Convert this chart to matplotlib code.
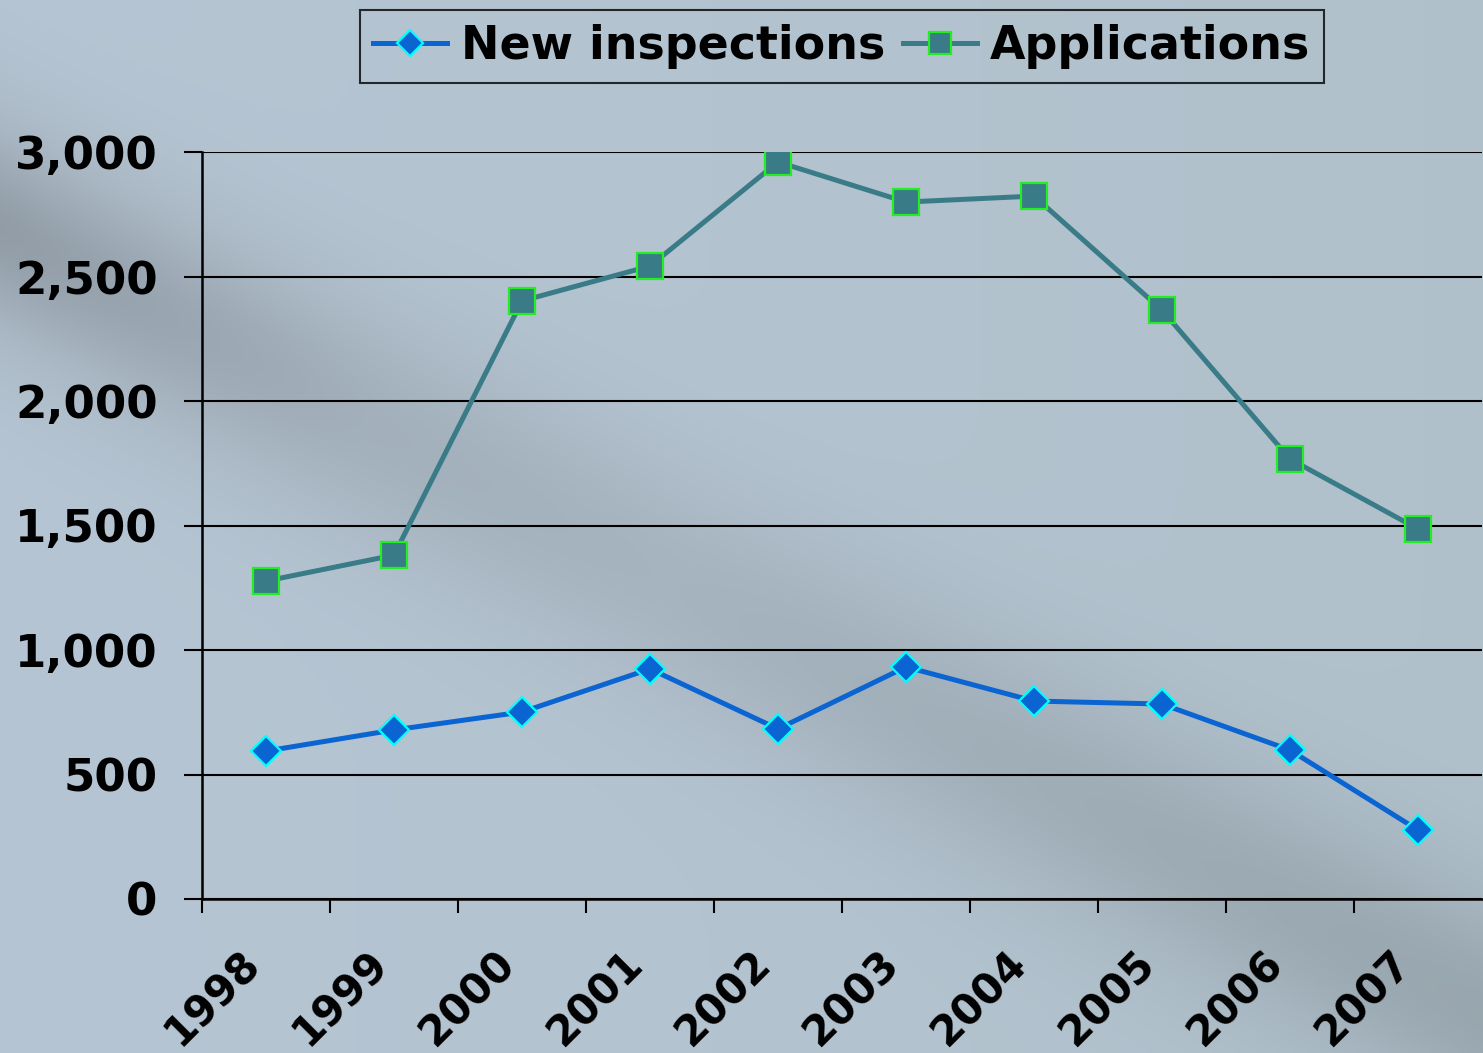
import numpy as np
import matplotlib.pyplot as plt
import matplotlib.transforms as mtransforms
from matplotlib.ticker import FuncFormatter, FixedLocator

years = ["1998", "1999", "2000", "2001", "2002", "2003", "2004", "2005", "2006", "2007"]
new_inspections = [594, 679, 751, 924, 683, 932, 795, 783, 598, 277]
applications = [1277, 1381, 2402, 2542, 2960, 2799, 2823, 2365, 1767, 1486]
y_ticks = [0, 500, 1000, 1500, 2000, 2500, 3000]

W, H = 1483, 1053
fig = plt.figure(figsize=(W / 100, H / 100), dpi=100)

# background: blue-grey with a dark diagonal shadow
bg = fig.add_axes([0, 0, 1, 1])
yy, xx = np.mgrid[0:H, 0:W]
base = np.array([182, 197, 211]) / 255.0
img = np.ones((H, W, 3)) * base
t = xx / W
img = img * (1 - 0.06 * t[..., None]) + np.array([0.02, 0.03, 0.02]) * t[..., None]
x0, y0, x1, y1 = 0, 230, 1483, 1010
dx, dy = x1 - x0, y1 - y0
L = np.hypot(dx, dy)
d = ((xx - x0) * dy - (yy - y0) * dx) / L
along = ((xx - x0) * dx + (yy - y0) * dy) / L / L
strength = 0.22 * np.exp(-(d / 110.0) ** 2) * (0.55 + 0.45 * np.clip(np.abs(along - 0.45) / 0.55, 0, 1))
strength += 0.12 * np.exp(-(d / 60.0) ** 2) * np.clip(1 - along / 0.25, 0, 1)
img = img * (1 - strength[..., None]) + np.array([0.45, 0.47, 0.48]) * strength[..., None] * 0.6
img = np.clip(img, 0, 1)
bg.imshow(img, aspect='auto', extent=[0, W, H, 0])
bg.set_xlim(0, W)
bg.set_ylim(H, 0)
bg.axis('off')

ax = fig.add_axes([202 / W, 1 - 899 / H, 1280 / W, (899 - 152) / H])
ax.patch.set_alpha(0)
x = np.arange(len(years))

ax.set_ylim(0, 3000)
ax.set_xlim(-0.5, len(years) - 0.5)
ax.yaxis.set_major_locator(FixedLocator(y_ticks))
ax.yaxis.set_major_formatter(FuncFormatter(lambda v, p: f"{int(v):,}"))
ax.grid(axis='y', color='black', linewidth=1.5)
ax.set_axisbelow(True)

l1, = ax.plot(x, new_inspections, color='#0a64d2', lw=3.6, marker='D', markersize=15,
              markerfacecolor='#0a64d2', markeredgecolor='#00ffff', markeredgewidth=1.6,
              label='New inspections', zorder=3)
l2, = ax.plot(x, applications, color='#3a7b88', lw=3.6, marker='s', markersize=19,
              markerfacecolor='#3a7b88', markeredgecolor='#22ee22', markeredgewidth=1.6,
              label='Applications', zorder=3)

for s in ['top', 'right']:
    ax.spines[s].set_visible(False)
for s in ['left', 'bottom']:
    ax.spines[s].set_color('black')
    ax.spines[s].set_linewidth(1.8)

ax.set_xticks(x)
ax.set_xticklabels(years, rotation=45, ha='right', va='top', rotation_mode='anchor')
ax.set_xticks(np.arange(len(years)) - 0.5, minor=True)
ax.tick_params(axis='x', which='major', length=0, pad=31, labelsize=30)
ax.tick_params(axis='x', which='minor', length=10, width=1.5, direction='out', color='black')
ax.tick_params(axis='y', length=13, width=1.5, direction='out', labelsize=32.5, pad=19)
offset = mtransforms.ScaledTranslation(-0.28, 0, fig.dpi_scale_trans)
for lab in ax.get_xticklabels():
    lab.set_transform(lab.get_transform() + offset)
for lab in ax.get_xticklabels() + ax.get_yticklabels():
    lab.set_fontweight('bold')

leg = fig.legend(handles=[l1, l2], loc='center', bbox_to_anchor=(842 / W, 1 - 46.5 / H),
                 ncol=2, frameon=True, fancybox=False, handlelength=1.6,
                 columnspacing=0.4, handletextpad=0.3, borderpad=0.3,
                 prop={'weight': 'bold', 'size': 33}, markerscale=0.85)
leg.get_frame().set_edgecolor('black')
leg.get_frame().set_linewidth(1.5)
leg.get_frame().set_facecolor('none')

fig.savefig('out.png', dpi=100)
